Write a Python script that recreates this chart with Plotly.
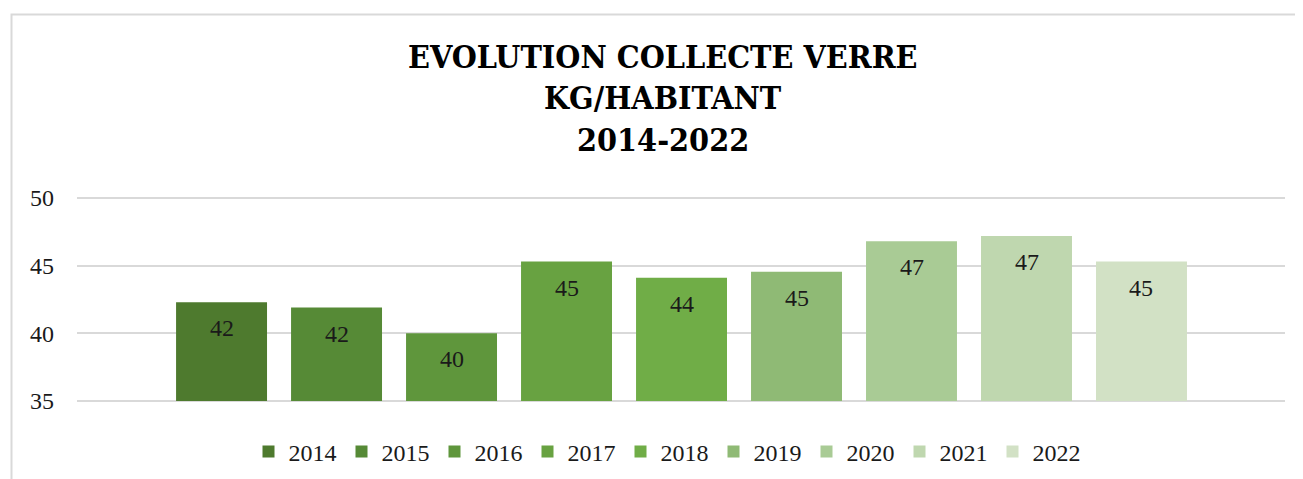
import plotly.graph_objects as go

years = ["2014", "2015", "2016", "2017", "2018", "2019", "2020", "2021", "2022"]
values = [42.3, 41.9, 40.0, 45.3, 44.1, 44.55, 46.8, 47.2, 45.3]
colors = ["#4E7A2E", "#568A36", "#5F963C", "#68A241", "#70AD47",
          "#8FBA75", "#A9CB95", "#BFD7AF", "#D2E1C5"]
title_lines = ["EVOLUTION COLLECTE VERRE", "KG/HABITANT", "2014-2022"]
y_ticks = [35, 40, 45, 50]
Y_MIN, Y_MAX = 35, 50

OFF = 8  # default page body margin
W, H = 1303 - OFF, 479 - OFF
PAD = 2  # extra px above/below so the end gridlines are drawn
ML, MT = 77 - OFF, 198 - OFF - PAD
PW, PH = 1208, 203 + 2 * PAD
MR = W - ML - PW
MB = H - MT - PH
UNIT = 203 / (Y_MAX - Y_MIN)  # px per kg
YPAD = PAD / UNIT

def py(p):  # reference pixel y -> paper
    return (MT + PH - (p - OFF)) / PH

def px(p):  # reference pixel x -> paper
    return ((p - OFF) - ML) / PW

SERIF = "Liberation Serif, DejaVu Serif, serif"
TITLE_FONT = "DejaVu Serif Condensed, Liberation Serif, serif"

fig = go.Figure()
for i, (yr, v, c) in enumerate(zip(years, values, colors)):
    # bars start at the axis minimum (35), like the original chart
    fig.add_trace(go.Bar(x=[i], y=[v - Y_MIN], base=Y_MIN, name=yr,
                         marker_color=c, marker_line_width=0, width=0.791,
                         customdata=[v],
                         hovertemplate=yr + ": %{customdata}<extra></extra>"))

annotations = []
for i, v in enumerate(values):
    annotations.append(dict(x=i, y=v, xref="x", yref="y", text=f"{v:.0f}",
                            showarrow=False, yanchor="middle", yshift=-26,
                            font=dict(family=SERIF, size=24, color="#1a1a1a")))

title_y = [57, 98, 139.7]
for t, yy in zip(title_lines, title_y):
    annotations.append(dict(x=px(663), y=py(yy), xref="paper", yref="paper",
                            text=f"<b>{t}</b>", showarrow=False,
                            xanchor="center", yanchor="middle",
                            font=dict(family=TITLE_FONT, size=32, color="#000000")))

fig.update_layout(
    width=W, height=H,
    margin=dict(l=ML, r=MR, t=MT, b=MB, pad=0, autoexpand=False),
    paper_bgcolor="white", plot_bgcolor="white",
    barmode="overlay",
    showlegend=True,
    legend=dict(orientation="h", x=px(667), xanchor="center",
                y=py(452), yanchor="middle",
                font=dict(family=SERIF, size=24, color="#1a1a1a"),
                traceorder="normal", itemwidth=30),
    xaxis=dict(range=[-1.257, 9.248], showticklabels=False, showgrid=False,
               zeroline=False, showline=False, fixedrange=True),
    yaxis=dict(range=[Y_MIN - YPAD, Y_MAX + YPAD], tickvals=y_ticks, showgrid=True,
               gridcolor="#d9d9d9", gridwidth=2, zeroline=False, showline=False,
               ticklabelstandoff=22,
               tickfont=dict(family=SERIF, size=24, color="#1a1a1a")),
    annotations=annotations,
    shapes=[dict(type="rect", xref="paper", yref="paper",
                 x0=px(11.5), x1=px(1330), y0=py(14.5), y1=py(520),
                 line=dict(color="#d9d9d9", width=2), layer="below")],
    font=dict(family=SERIF),
)

fig.write_html("out.html")
